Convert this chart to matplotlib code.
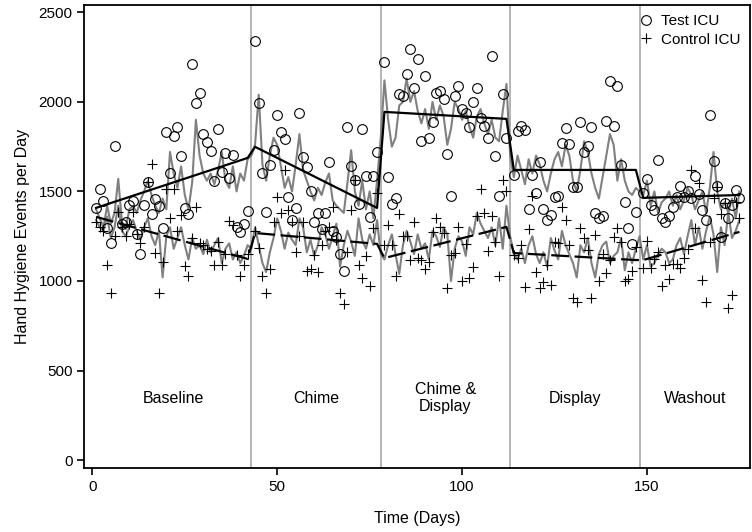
import numpy as np
import matplotlib
matplotlib.use('Agg')
import matplotlib.pyplot as plt
from matplotlib import font_manager

nan = np.nan

# font: narrow Arial look if available
names = {f.name for f in font_manager.fontManager.ttflist}
fam = 'Liberation Sans Narrow' if 'Liberation Sans Narrow' in names else 'Liberation Sans'
plt.rcParams['font.family'] = [fam, 'DejaVu Sans']

days = np.arange(1, 176)

# observed daily hand hygiene events
test_obs = [
    1406, 1514, 1449, 1298, 1210, 1752, nan, 1317, 1331, 1425,
    1447, 1261, 1149, 1425, 1551, 1372, 1458, 1421, 1294, 1834,
    1605, 1812, 1862, 1700, 1406, 1376, 2210, 1996, 2048, 1821,
    1778, 1726, 1559, 1847, 1611, 1713, 1574, 1704, 1304, 1272,
    1320, 1391, nan, 2341, 1991, 1605, 1387, 1648, 1730, 1927,
    1831, 1791, 1467, 1341, 1410, 1937, 1691, 1639, 1505, 1331,
    1378, 1290, 1382, 1667, 1279, 1246, 1149, 1056, 1858, 1644,
    1562, 1432, 1847, 1587, 1359, 1588, 1719, nan, 2222, 1583,
    1428, 1466, 2043, 2030, 2155, 2296, 2076, 2240, 1782, 2147,
    1801, 1885, 2052, 2061, 2017, 1708, 1473, 2030, 2089, 1961,
    1940, 1862, 1998, 2080, 1912, 1868, 1801, 2257, 1700, 1475,
    2043, 1797, nan, 1592, 1838, 1864, 1844, 1400, 1592, 1493,
    1667, 1402, 1341, 1369, 1471, 1477, 1769, 1853, 1767, 1527,
    1527, 1886, 1719, 1756, 1862, 1378, 1354, 1363, 1894, 2114,
    1868, 2086, 1648, 1443, 1294, 1209, 1387, nan, 1493, 1568,
    1425, 1397, 1676, 1350, 1330, 1365, 1415, 1471, 1531, 1471,
    1505, 1466, 1587, 1484, 1397, 1341, 1927, 1670, 1531, 1248,
    1434, 1350, 1425, 1508, 1466]

ctrl_obs = [
    1331, 1304, 1280, 1089, 931, 1250, 1387, 1300, 1253, 1320,
    1387, 1260, 1210, 1304, 1555, 1654, 1155, 935, 1104, 1514,
    1350, 1514, 1280, 1369, 1086, 1030, 1240, 1415, 1210, 1201,
    1179, 1168, 1089, 1220, 1089, 1149, 1335, 1313, 1145, 1030,
    1089, 1150, nan, 1280, 1182, 1030, 935, 1067, 1331, 1471,
    1378, 1620, 1397, 1331, 1164, 1250, 1331, 1056, 1065, 1145,
    1048, 1201, 1280, 1300, 1415, 1230, 931, 873, 1164, 1397,
    1564, 1089, 1015, 1142, 972, 1298, 1490, nan, 1201, 1313,
    1200, 1030, 1374, 1251, 1251, 1117, 1331, 1127, 1117, 1067,
    1108, 1276, 1350, 1304, 1266, 959, 1145, 1155, 1304, 1000,
    1205, 1015, 1080, 1365, 1514, 1378, 1168, 1365, 1216, 1030,
    1564, 1503, nan, 1145, 1127, 1200, 968, 1290, 1477, 1052,
    959, 996, 1089, 978, 1220, 1210, 1415, 1341, 1201, 903,
    885, 1294, 1238, 1173, 907, 1257, 1000, 1149, 1043, 1117,
    1248, 1298, 1220, 1000, 1010, 1056, 1192, nan, 1071, 1223,
    1071, 1120, 1164, 972, 1089, 1011, 1093, 1093, 1071, 1127,
    1180, 1620, 1294, 1546, 1006, 885, 1220, 1462, 1527, 1372,
    1434, 851, 922, 1443, 1350]

# fitted daily values (gray lines)
test_fit = [
    1400, 1350, 1300, 1420, 1320, 1380, 1570, 1330, 1290, 1400,
    1420, 1380, 1450, 1500, 1560, 1480, 1420, 1380, 1460, 1400,
    1720, 1600, 1520, 1640, 1480, 1400, 1550, 1900, 1700, 1600,
    1560, 1600, 1540, 1620, 1720, 1560, 1520, 1640, 1500, 1600,
    1560, 1680, 1700, 1760, 2040, 1650, 1560, 1700, 1800, 1760,
    1640, 1520, 1580, 1500, 1650, 1820, 1620, 1560, 1500, 1450,
    1520, 1480, 1550, 1600, 1450, 1420, 1400, 1380, 1550, 1730,
    1500, 1420, 1560, 1400, 1500, 1350, 1560, 1800, 2120, 1900,
    1750, 1800, 1980, 2000, 2130, 2000, 2060, 1950, 1880, 1960,
    1850, 2000, 1900, 1980, 1920, 1760, 1850, 2000, 1960, 1900,
    1950, 1860, 1800, 1920, 1960, 1880, 1820, 1900, 1800, 1780,
    1950, 2100, 1700, 1580, 1700, 1620, 1540, 1680, 1600, 1700,
    1650, 1560, 1500, 1600, 1680, 1720, 1640, 1760, 1700, 1560,
    1500, 1620, 1780, 1720, 1600, 1520, 1460, 1580, 1700, 1820,
    1760, 1560, 1680, 1560, 1500, 1480, 1520, 1500, 1480, 1560,
    1420, 1500, 1380, 1440, 1460, 1500, 1420, 1480, 1400, 1450,
    1520, 1480, 1400, 1450, 1500, 1380, 1520, 1720, 1500, 1400,
    1440, 1380, 1460, 1350, 1500]

ctrl_fit = [
    1340, 1300, 1280, 1360, 1240, 1300, 1420, 1280, 1250, 1300,
    1340, 1280, 1230, 1300, 1350, 1250, 1200, 1280, 1020, 1250,
    1300, 1180, 1240, 1300, 1200, 1120, 1240, 1180, 1200, 1150,
    1230, 1160, 1200, 1240, 1100, 1180, 1210, 1120, 1160, 1100,
    1140, 1200, 1180, 1300, 1200, 1100, 1050, 1160, 1240, 1350,
    1280, 1180, 1270, 1230, 1200, 1350, 1300, 1160, 1230, 1140,
    1200, 1300, 1260, 1180, 1250, 1320, 1080, 1200, 1280, 1220,
    1140, 1350, 1230, 1180, 1260, 1200, 1340, 1150, 1120, 1200,
    1260, 1150, 1040, 1200, 1280, 1220, 1150, 1260, 1180, 1210,
    1120, 1280, 1250, 1190, 1300, 1260, 1000, 1180, 1250, 1220,
    1140, 1300, 1260, 1380, 1320, 1280, 1240, 1300, 1200, 1350,
    1180, 1420, 1250, 1150, 1120, 1180, 1100, 1200, 1250, 1150,
    1100, 1160, 1080, 1240, 1170, 1120, 1280, 1200, 1150, 1100,
    1020, 1200, 1160, 1240, 1100, 1020, 1150, 1200, 1220, 1100,
    1140, 1160, 1240, 1060, 1160, 1100, 1180, 1250, 1120, 1200,
    1080, 1100, 1150, 1180, 1160, 1100, 1120, 1200, 1240, 1150,
    1250, 1340, 1200, 1300, 1180, 1280, 1360, 1260, 1050, 1300,
    1200, 1380, 1240, 1280, 1340]

# segmented regression trend (segment end points)
trend_days = [1, 42, 44, 77, 79, 112, 114, 147, 149, 175]
test_trend = [1408, 1687, 1749, 1408, 1944, 1905, 1620, 1620, 1464, 1480]
ctrl_trend = [1358, 1123, 1268, 1207, 1128, 1302, 1156, 1117, 1117, 1274]

phase_breaks = [43, 78, 113, 148]
phase_names = ['Baseline', 'Chime', 'Chime &\nDisplay', 'Display', 'Washout']
phase_mid = [22, 60.5, 95.5, 130.5, 163]

fig = plt.figure(figsize=(7.52, 5.32), dpi=100)
ax = fig.add_axes([0.112, 0.12, 0.885, 0.871])

for b in phase_breaks:
    ax.axvline(b, color='#b4b4b4', lw=1.4, zorder=1)

ax.plot(days, test_fit, color='#808080', lw=1.5, zorder=2)
ax.plot(days, ctrl_fit, color='#808080', lw=1.5, zorder=2)
ax.plot(trend_days, test_trend, color='black', lw=1.6, zorder=3)
ax.plot(trend_days, ctrl_trend, color='black', lw=1.6, dashes=(8, 2.5), zorder=3)

ax.plot(days, test_obs, 'o', mfc='none', mec='black', mew=0.8, ms=7,
        label='Test ICU', zorder=4)
ax.plot(days, ctrl_obs, '+', color='black', mew=0.8, ms=7,
        label='Control ICU', zorder=4)

for name, xm in zip(phase_names, phase_mid):
    ax.text(xm, 346, name, ha='center', va='center', fontsize=11.5)

ax.set_xlim(-2.2, 177.8)
ax.set_ylim(-45, 2542)
ax.set_xticks([0, 50, 100, 150])
ax.set_yticks([0, 500, 1000, 1500, 2000, 2500])
ax.tick_params(direction='out', length=5, width=1.2, labelsize=11)
for s in ax.spines.values():
    s.set_linewidth(1.3)

ax.set_xlabel('Time (Days)', fontsize=11.5, labelpad=12)
ax.set_ylabel('Hand Hygiene Events per Day', fontsize=11.5, labelpad=6)

ax.legend(loc='upper right', frameon=False, fontsize=11, handlelength=0.8,
          handletextpad=0.6, borderaxespad=0.2, labelspacing=0.3)

fig.savefig('out.png', dpi=100)
